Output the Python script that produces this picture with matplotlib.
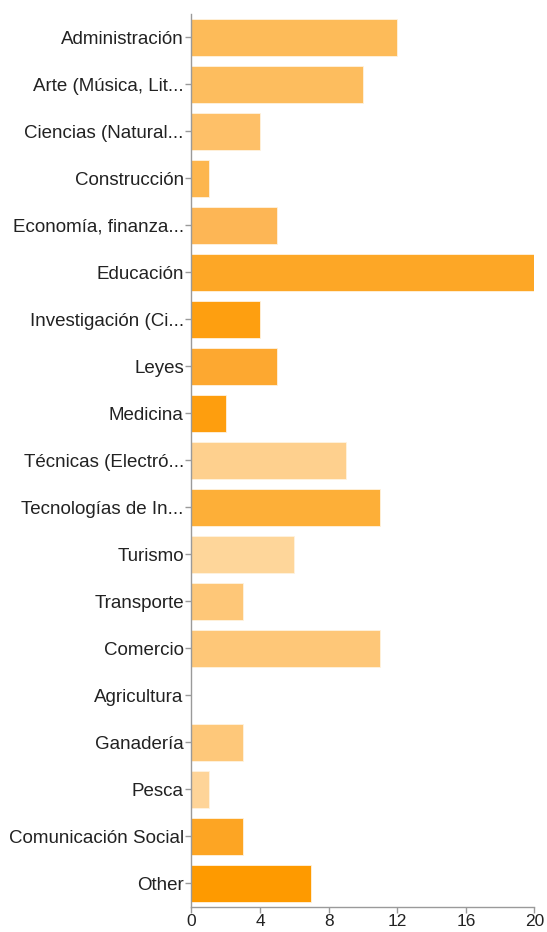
import matplotlib
matplotlib.use("Agg")
import matplotlib.pyplot as plt

plt.rcParams['font.family'] = ['Liberation Sans', 'DejaVu Sans']

categorias = [
    "Administración", "Arte (Música, Lit...", "Ciencias (Natural...", "Construcción",
    "Economía, finanza...", "Educación", "Investigación (Ci...", "Leyes", "Medicina",
    "Técnicas (Electró...", "Tecnologías de In...", "Turismo", "Transporte",
    "Comercio", "Agricultura", "Ganadería", "Pesca", "Comunicación Social", "Other",
]
valores = [12, 10, 4, 1, 5, 20, 4, 5, 2, 9, 11, 6, 3, 11, 0, 3, 1, 3, 7]
colores = [
    "#fdbb59", "#fdbd5e", "#fec068", "#fdb64e", "#fdb655", "#fda726", "#fe9f10",
    "#fda830", "#fe9e0e", "#fed08e", "#fdaf38", "#fed69a", "#fec778", "#fec778",
    "#fec778", "#fec87a", "#fed498", "#fda523", "#fe9a00",
]
ticks_x = [0, 4, 8, 12, 16, 20]

fig = plt.figure(figsize=(5.47, 9.32), dpi=100)
ax = fig.add_axes([0.350, 0.027, 0.627, 0.958])

pos = list(range(len(categorias)))
ax.barh(pos, valores, height=0.79, color=colores, edgecolor="#fff3e0", linewidth=0.6)

ax.set_ylim(len(categorias) - 0.5, -0.5)
ax.set_xlim(0, 20)
ax.set_yticks(pos)
ax.set_yticklabels(categorias)
ax.set_xticks(ticks_x)

for lado in ["top", "right"]:
    ax.spines[lado].set_visible(False)
for lado in ["left", "bottom"]:
    ax.spines[lado].set_color("#9a9a9a")
    ax.spines[lado].set_linewidth(1.0)

ax.tick_params(axis="both", colors="#9a9a9a", length=4, width=1.0,
               labelcolor="#222222", pad=1.5)
ax.tick_params(axis="y", labelsize=13.5)
ax.tick_params(axis="x", labelsize=12.5)

fig.savefig("out.png", dpi=100)
